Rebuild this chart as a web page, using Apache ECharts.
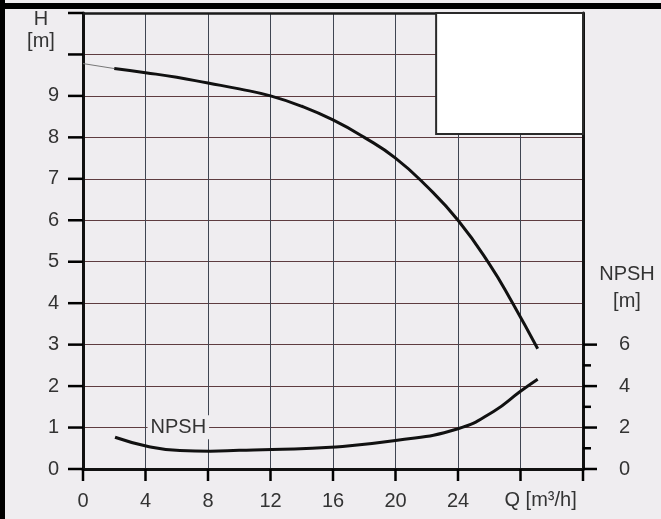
<!DOCTYPE html>
<html><head><meta charset="utf-8">
<script src="https://cdn.jsdelivr.net/npm/echarts@6/dist/echarts.min.js"></script>
<style>html,body{margin:0;padding:0;background:#efedf0}#c{width:661px;height:519px}</style>
</head><body><div id="c"></div>
<script>
// ---- data ----
const qTicks = [0, 4, 8, 12, 16, 20, 24, 28, 32];
const qTickLabels = [0, 4, 8, 12, 16, 20, 24];
const hTicks = [0, 1, 2, 3, 4, 5, 6, 7, 8, 9, 10, 11];
const hTickLabels = [0, 1, 2, 3, 4, 5, 6, 7, 8, 9];
const npshTickLabels = [0, 2, 4, 6];
const npshMinorTicks = [1, 3, 5];
const qThin = [0, 2];
const hThin = [9.78, 9.66];
const qH = [2, 4, 6, 8, 10, 12, 14, 16, 18, 20, 22, 24, 26, 27.5, 29.1];
const hH = [9.66, 9.56, 9.45, 9.31, 9.17, 9.0, 8.75, 8.42, 8.0, 7.5, 6.82, 6.0, 4.95, 4.0, 2.9];
const qN = [2.05, 4.1, 6.2, 8.15, 10, 12.1, 15.85, 20, 24, 26.3, 28, 29.1];
const npsh = [1.53, 1.1, 0.89, 0.86, 0.9, 0.94, 1.05, 1.37, 1.94, 2.79, 3.75, 4.33];
const npshLabelAt = [6.1, 1.01];   // (Q, H) where the "NPSH" curve label sits
const boxQ = [22.6, 32];
const boxH = [8.08, 11];

const FONT = 'Liberation Sans, Arial, sans-serif';
const TXT = '#333';
const BG = '#efedf0';

const chart = echarts.init(document.getElementById('c'));
const zip = (a, b) => a.map((v, i) => [v, b[i]]);

chart.setOption({
  animation: false,
  backgroundColor: BG,
  grid: { left: 83, right: 78, top: 13, bottom: 50 },
  xAxis: [{
    type: 'value', min: 0, max: 32, interval: 4,
    axisLine: { show: true, lineStyle: { color: '#111', width: 3 } },
    axisTick: { show: false },
    axisLabel: { margin: 22, color: TXT, fontFamily: FONT, fontSize: 20,
      formatter: v => qTickLabels.includes(v) ? String(v) : '' },
    splitLine: { show: true, lineStyle: { color: '#3f4552', width: 1 } }
  }, {
    type: 'value', position: 'top', min: 0, max: 32,
    axisLine: { show: true, onZero: false, lineStyle: { color: '#1a1a1a', width: 2.5 } },
    axisTick: { show: false }, axisLabel: { show: false }, splitLine: { show: false }
  }],
  yAxis: [{
    type: 'value', position: 'left', min: 0, max: 11, interval: 1,
    axisLine: { show: true, onZero: false, lineStyle: { color: '#111', width: 3 } },
    axisTick: { show: false },
    axisLabel: { margin: 24, color: TXT, fontFamily: FONT, fontSize: 20,
      formatter: v => hTickLabels.includes(v) ? String(v) : '' },
    splitLine: { show: true, lineStyle: { color: '#5e3c40', width: 1 } }
  }, {
    type: 'value', position: 'right', min: 0, max: 22, interval: 2,
    axisLine: { show: true, onZero: false, lineStyle: { color: '#111', width: 3 } },
    axisTick: { show: false },
    axisLabel: { margin: 36, color: TXT, fontFamily: FONT, fontSize: 20,
      formatter: v => npshTickLabels.includes(v) ? String(v) : '' },
    splitLine: { show: false }
  }],
  series: [{
    type: 'line', data: zip(qThin, hThin), showSymbol: false, symbol: 'none',
    lineStyle: { color: '#777', width: 1 }, z: 3
  }, {
    type: 'line', data: zip(qH, hH), smooth: 0.5, showSymbol: false, symbol: 'none',
    lineStyle: { color: '#111', width: 3 }, z: 3,
    markArea: { silent: true,
      itemStyle: { color: '#ffffff', borderColor: '#2a2a2a', borderWidth: 2 },
      data: [[{ coord: [boxQ[0], boxH[0]] }, { coord: [boxQ[1], boxH[1]] }]] }
  }, {
    type: 'line', yAxisIndex: 1, data: zip(qN, npsh), smooth: 0.5, showSymbol: false, symbol: 'none',
    lineStyle: { color: '#111', width: 3 }, z: 3
  }]
});

const toPx = (q, h) => chart.convertToPixel({ xAxisIndex: 0, yAxisIndex: 0 }, [q, h]);
const toPxN = (q, n) => chart.convertToPixel({ xAxisIndex: 0, yAxisIndex: 1 }, [q, n]);
const lp = toPx(npshLabelAt[0], npshLabelAt[1]);
const qp = toPx(28, 0);
const rp = toPx(32, 5);
const tp = toPx(0, 10.5);
const seg = (x1, y1, x2, y2) => ({ type: 'polyline', z: 60,
  shape: { points: [[x1, y1], [x2, y2]] }, style: { stroke: '#000', lineWidth: 2.5, fill: null } });
const ticks = [];
npshTickLabels.forEach(n => { const p = toPxN(32, n); ticks.push(seg(p[0], p[1], p[0] + 14, p[1])); });
npshMinorTicks.forEach(n => { const p = toPxN(32, n); ticks.push(seg(p[0], p[1], p[0] + 8, p[1])); });
hTicks.forEach(h => { const p = toPx(0, h); ticks.push(seg(p[0] - 15, p[1], p[0], p[1])); });
qTicks.forEach(q => { const p = toPx(q, 0); ticks.push(seg(p[0], p[1], p[0], p[1] + 12)); });

chart.setOption({
  graphic: [
    { type: 'rect', shape: { x: 0, y: 3, width: 661, height: 6 }, style: { fill: '#000' }, z: 100 },
    { type: 'rect', shape: { x: 0, y: 0, width: 5, height: 519 }, style: { fill: '#000' }, z: 100 },
    { type: 'text', x: lp[0], y: lp[1], z: 50,
      style: { text: 'NPSH', fill: TXT, font: '20px ' + FONT, align: 'center', verticalAlign: 'middle',
        backgroundColor: BG, padding: [2, 3] } },
    { type: 'text', x: qp[0] - 16, y: qp[1] + 31, z: 50,
      style: { text: 'Q [m³/h]', fill: TXT, font: '20px ' + FONT, align: 'left', verticalAlign: 'middle' } },
    { type: 'text', x: rp[0] + 44, y: rp[1] + 26, z: 50,
      style: { text: 'NPSH\n[m]', fill: TXT, font: '20px ' + FONT, align: 'center', verticalAlign: 'middle', lineHeight: 27 } },
    { type: 'text', x: tp[0] - 42, y: tp[1] - 3, z: 50,
      style: { text: 'H\n[m]', fill: TXT, font: '20px ' + FONT, align: 'center', verticalAlign: 'middle', lineHeight: 22 } }
  ].concat(ticks)
});
</script>
</body></html>
